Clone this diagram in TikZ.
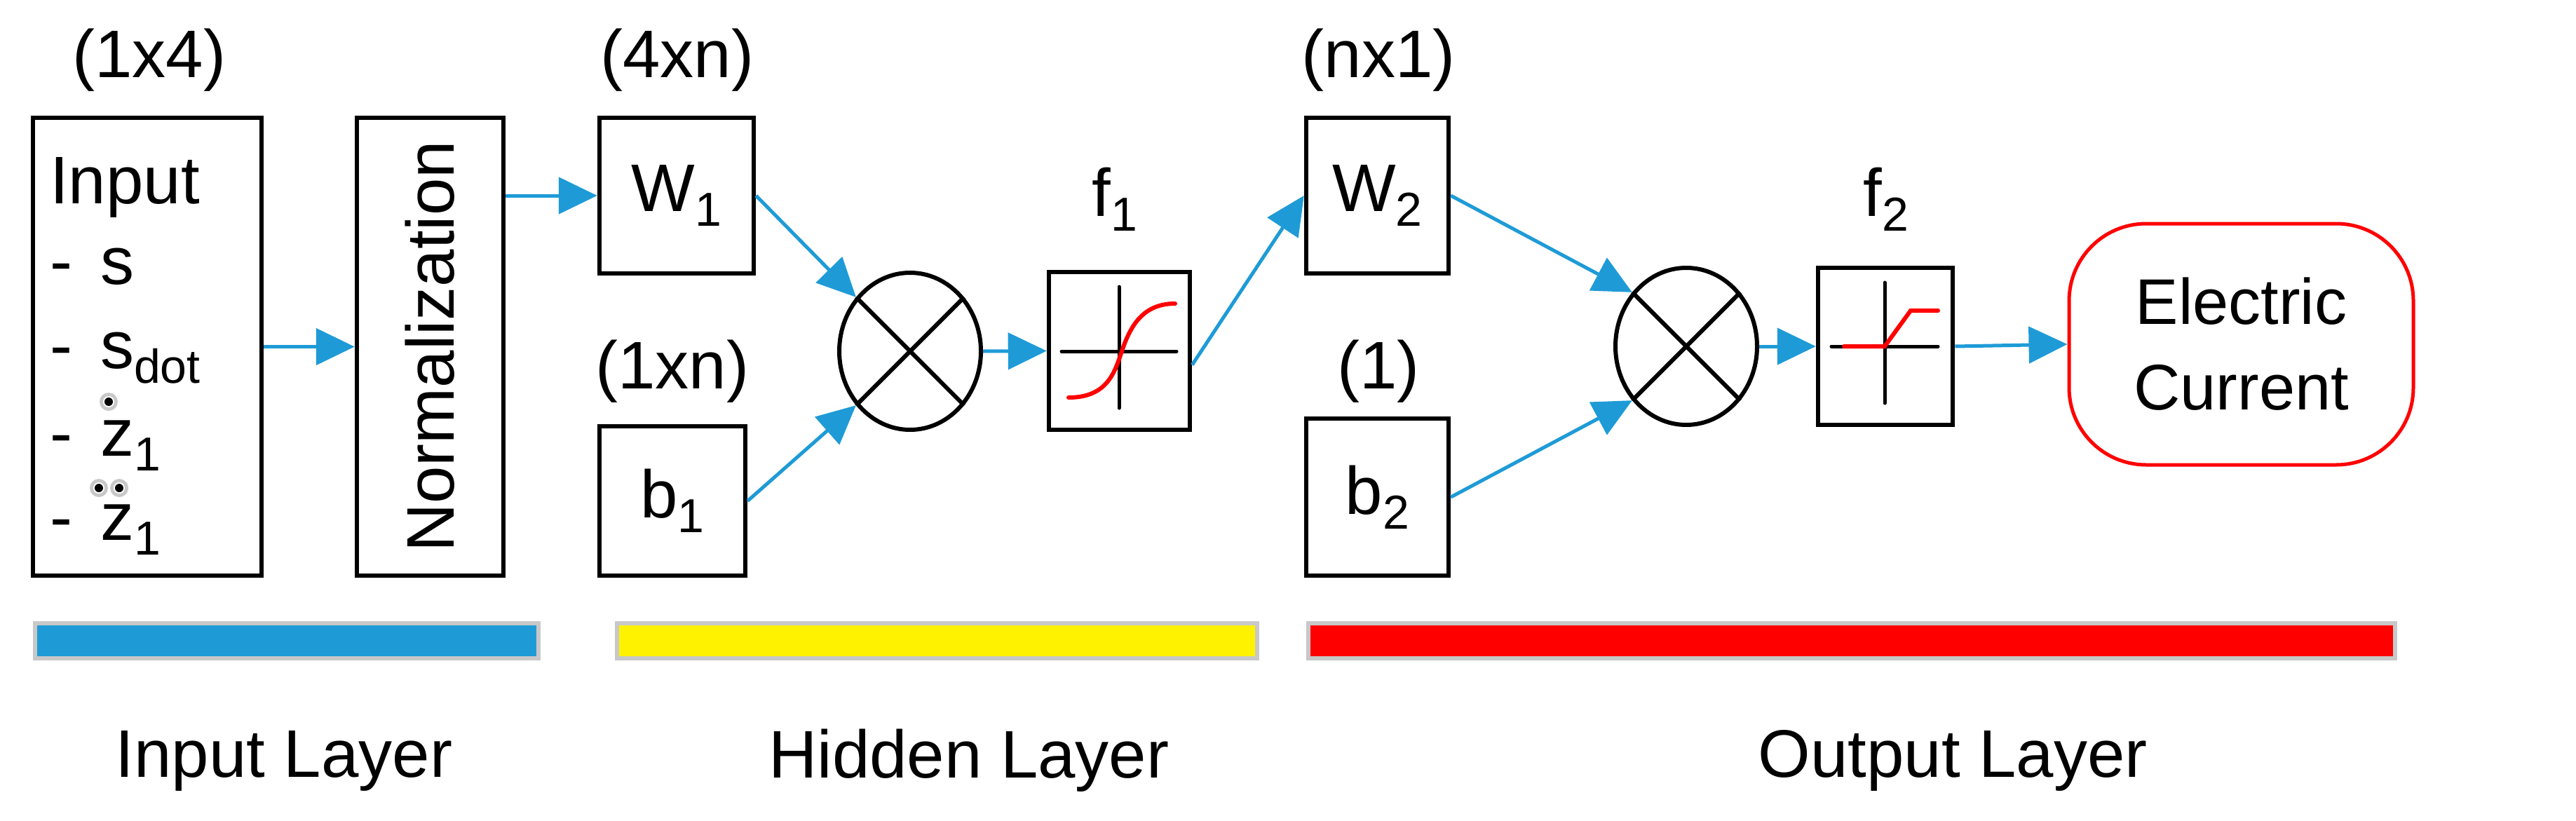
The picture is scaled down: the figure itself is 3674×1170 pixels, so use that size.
\documentclass[tikz,border=0pt]{standalone}
\usepackage{fontspec}
\setmainfont{Liberation Sans}
\usetikzlibrary{arrows.meta,shapes.geometric}
\definecolor{ablue}{RGB}{30,155,215}
\definecolor{bgray}{RGB}{200,200,200}
\newcommand\mysub[1]{\raisebox{-0.22em}{\fontsize{68}{68}\selectfont #1}}
\begin{document}
\begin{tikzpicture}[x=1pt,y=-1pt,
  txt/.style={font=\fontsize{96}{112}\selectfont, inner sep=0pt},
  box/.style={draw=black, line width=6.5pt, inner sep=0pt},
  mult/.style={draw=black, ellipse, line width=6pt, minimum width=202pt, minimum height=224pt, inner sep=0pt},
  arr/.style={draw=ablue, line width=5pt, -{Triangle[length=55pt,width=52pt]}},
  bar/.style={draw=bgray, line width=6pt},
  ax/.style={line width=5pt, line cap=round},
  act/.style={red, line width=6pt, line cap=round}]
\useasboundingbox (0,0) rectangle (3674,1170);
% boxes
\node[box, minimum width=326pt, minimum height=653pt] (inp) at (210,494.5) {};
\node[box, minimum width=209pt, minimum height=653pt] (norm) at (613.5,494.5) {};
\node[txt, rotate=90] (normt) at (norm) {Normalization};
\node[box, minimum width=220pt, minimum height=222pt] (w1) at (965,279) {};
\node[txt] (w1t) at (965,279) {W\mysub{1}};
\node[box, minimum width=208pt, minimum height=213pt] (b1) at (959,714.5) {};
\node[txt] (b1t) at (959,714.5) {b\mysub{1}};
\node[mult] (c1) at (1298,501) {};
\node[box, minimum width=201pt, minimum height=225pt] (f1) at (1596.5,500.5) {};
\node[box, minimum width=203pt, minimum height=222pt] (w2) at (1964.5,279) {};
\node[txt] (w2t) at (1964.5,279) {W\mysub{2}};
\node[box, minimum width=203pt, minimum height=224pt] (b2) at (1964.5,709) {};
\node[txt] (b2t) at (1964.5,709) {b\mysub{2}};
\node[mult] (c2) at (2405,494) {};
\node[box, minimum width=192pt, minimum height=224pt] (f2) at (2689,494) {};
\node[draw=red, line width=5pt, rounded corners=110pt, minimum width=491pt, minimum height=344pt, inner sep=0pt, font=\fontsize{92}{122}\selectfont, align=center] (out) at (3196.5,491) {Electric\\Current};
% X in multipliers
\draw[line width=6pt] (c1.45) -- (c1.225) (c1.135) -- (c1.315);
\draw[line width=6pt] (c2.45) -- (c2.225) (c2.135) -- (c2.315);
% activation plots
\draw[ax] (1596,409) -- (1596,582) (1514,501) -- (1678,501);
\draw[act] (1524,567) .. controls (1580,567) and (1590,530) .. (1600,501) .. controls (1612,465) and (1630,433) .. (1676,433);
\draw[ax] (2688,403) -- (2688,575) (2612,494) -- (2764,494);
\draw[act] (2630,494) -- (2688,494) -- (2725,443) -- (2764,443);
% labels
\node[txt] (l1) at (213,86) {(1x4)};
\node[txt] (l2) at (966,86) {(4xn)};
\node[txt] (l3) at (959,530) {(1xn)};
\node[txt] (l4) at (1966,86) {(nx1)};
\node[txt] (l5) at (1966,530) {(1)};
\node[txt] (lf1) at (1590,284) {f\mysub{1}};
\node[txt] (lf2) at (2690,284) {f\mysub{2}};
% input text
\node[txt, anchor=base west] (i0) at (71,290) {Input};
\node[txt, anchor=base west] (i1) at (71,405) {-\hspace{40pt}s};
\node[txt, anchor=base west] (i2) at (71,525) {-\hspace{40pt}s\mysub{dot}};
\node[txt, anchor=base west] (i3) at (71,650) {-\hspace{40pt}z\mysub{1}};
\node[txt, anchor=base west] (i4) at (71,770) {-\hspace{40pt}z\mysub{1}};
\foreach \p in {(155,573),(141,696),(170,696)}{
  \fill[bgray] \p circle (13pt);
  \fill[white] \p circle (8pt);
  \fill[black] \p circle (6pt);
}
% arrows
\draw[arr] (inp.east) -- (norm.west);
\draw[arr] (norm.east |- w1.west) -- (w1.west);
\draw[arr] (w1.east) -- (c1.135);
\draw[arr] (b1.east) -- (c1.225);
\draw[arr] (c1.east) -- (f1.west);
\draw[arr] ([yshift=-20pt]f1.east) -- (w2.west);
\draw[arr] (w2.east) -- (c2.135);
\draw[arr] (b2.east) -- (c2.225);
\draw[arr] (c2.east) -- (f2.west);
\draw[arr] (f2.east) -- (out.west);
% bars
\node[bar, fill=ablue, minimum width=718pt, minimum height=50pt, inner sep=0pt] (bar1) at (409,914) {};
\node[bar, fill=yellow, minimum width=913pt, minimum height=50pt, inner sep=0pt] (bar2) at (1336,914) {};
\node[bar, fill=red, minimum width=1550pt, minimum height=50pt, inner sep=0pt] (bar3) at (2641,914) {};
\node[txt] (t1) at (405,1085) {Input Layer};
\node[txt] (t2) at (1382,1085) {Hidden Layer};
\node[txt] (t3) at (2785,1085) {Output Layer};
\end{tikzpicture}
\end{document}
